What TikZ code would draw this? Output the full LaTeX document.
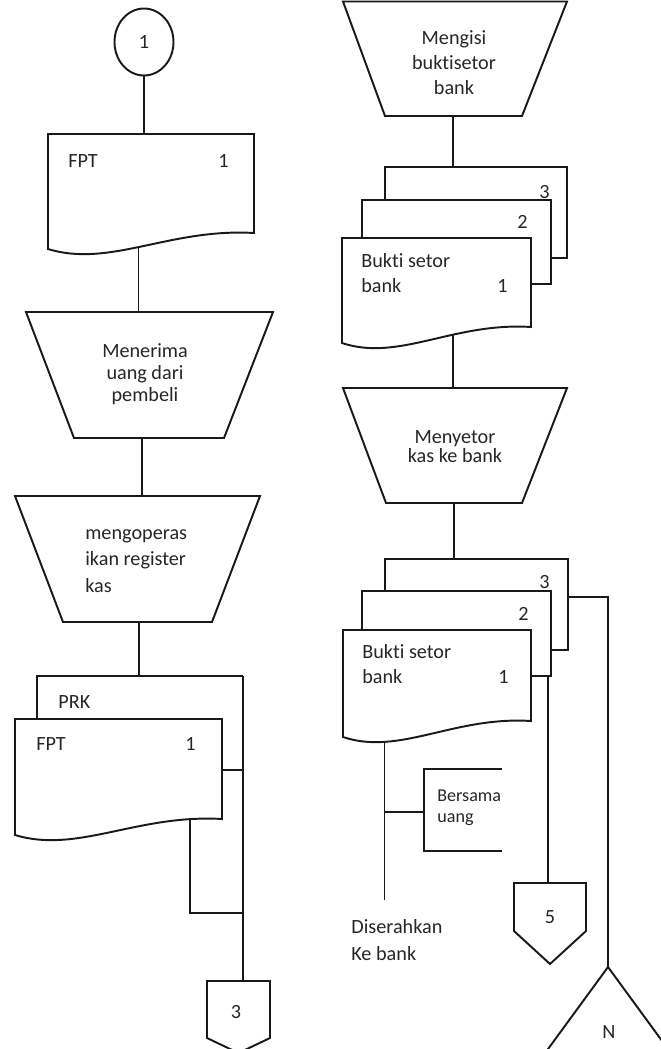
\documentclass[tikz,border=0pt]{standalone}
\usepackage{fontspec}
\setmainfont{Carlito}[Ligatures=NoCommon]
\usetikzlibrary{shapes.geometric}

% document symbol with wavy bottom: name, left, top, right, bottom (right side), outlet position on the wave
\newcommand{\flowdoc}[6]{%
  \draw[flow] (#2,#3) coordinate (#1-nw) -- (#4,#3) coordinate (#1-ne) -- (#4,#5) coordinate (#1-se)
    .. controls ({#2+0.59*(#4-#2)},{#5-5}) and ({#2+0.3*(#4-#2)},{#5+35}) .. (#2,{#5+16})
    coordinate[pos=#6] (#1-out) -- cycle;
}

\tikzset{
  flow/.style={line width=1.1pt, draw=black!90},
  txt/.style={font=\fontsize{11.5}{#1}\selectfont, text=black!85, inner sep=0pt},
  txt/.default=14,
}

\begin{document}
\begin{tikzpicture}[x=0.02cm, y=-0.02cm]
        % Define the page
        \useasboundingbox (0,0) rectangle (661,1049);
        \clip (0,0) rectangle (661,1049);

        % Left column: start from connector 1
        \node[ellipse, flow, txt, minimum width=1.18cm, minimum height=1.34cm] (c1) at (144,42) {1};

        % FPT received
        \flowdoc{fpt}{48}{134}{254}{233}{0.52}
        \node[txt, anchor=base west] (fpt-t) at (68,167) {FPT};
        \node[txt, anchor=base west] (fpt-n) at (218,167) {1};
        \draw[flow] (c1.south) -- (c1.south |- fpt-nw);

        % Menerima uang (base anchor sits on the last line)
        \draw[flow] (26,312) coordinate (t1-nw) -- (273,312) -- (224,438) -- (74,438) -- cycle;
        \node[txt=12.5, align=center, anchor=base] (t1-t) at (145,401.7) {Menerima\\uang dari\\pembeli};
        \draw[flow] (fpt-out) -- (fpt-out |- t1-nw);

        % Register kas
        \coordinate (t1-s) at (142,438);
        \draw[flow] (15,496) coordinate (t2-nw) -- (260,496) -- (212,622) -- (63,622) -- cycle;
        \node[txt=15, align=left, anchor=base west] (t2-t) at (85,592) {mengoperas\\ikan register\\kas};
        \draw[flow] (t1-s) -- (t1-s |- t2-nw);

        % PRK and FPT
        \coordinate (t2-s) at (139,622);
        \draw[flow] (37,719) |- (243,676) coordinate (prk-ne);
        \coordinate (prk-nw) at (37,676);
        \node[txt, anchor=base west] (prk-t) at (58,708) {PRK};
        \draw[flow] (t2-s) -- (t2-s |- prk-nw);
        \flowdoc{fpt2}{15}{719}{222}{819}{0.13}
        \node[txt, anchor=base west] (fpt2-t) at (36,750) {FPT};
        \node[txt, anchor=base west] (fpt2-n) at (185,750) {1};

        % Off-page connector 3
        \draw[flow] (207,981) coordinate (k3-nw) -- (270,981) -- (270,1038) -- (238.5,1053) -- (207,1038) -- cycle;
        \node[txt, anchor=base] (k3-t) at (236,1018) {3};
        \coordinate (fpt2-r) at (222,770);
        \coordinate (j3) at (243,913);
        \draw[flow] (prk-ne) -- (prk-ne |- k3-nw);
        \draw[flow] (fpt2-r) -- (fpt2-r -| prk-ne);
        \draw[flow] (fpt2-out) |- (j3);

        % Right column: Mengisi bukti setor
        \draw[flow] (343,1.5) -- (567,1.5) -- (522,116) -- (385,116) -- cycle;
        \node[txt=14.2, align=center, anchor=base] (mb-t) at (454,94) {Mengisi\\buktisetor\\bank};
        \coordinate (mb-s) at (453,116);

        % Bukti setor bank, three copies
        \draw[flow] (385,200) |- (567,167) |- (551,258);
        \coordinate (bs3-n) at (453,167);
        \node[txt, anchor=base west] (bs3-t) at (539,198) {3};
        \draw[flow] (362,238) |- (551,200) |- (531,284);
        \node[txt, anchor=base west] (bs2-t) at (517,228) {2};
        \flowdoc{bs1}{342}{238}{531}{327}{0.37}
        \node[txt=13.9, align=left, anchor=base west] (bs1-t) at (361,292) {Bukti setor\\bank};
        \node[txt, anchor=base west] (bs1-n) at (497,292) {1};
        \draw[flow] (mb-s) -- (bs3-n);

        % Menyetor kas
        \draw[flow] (343,388) coordinate (ms-nw) -- (567,388) -- (522,503) -- (386,503) -- cycle;
        \node[txt=10.4, align=center, anchor=base] (ms-t) at (455,462) {Menyetor\\kas ke bank};
        \draw[flow] (bs1-out) -- (bs1-out |- ms-nw);
        \coordinate (ms-s) at (454,503);

        % Bukti setor bank again
        \draw[flow] (385,591) |- (568,559) |- (551,650);
        \coordinate (bt3-n) at (454,559);
        \node[txt, anchor=base west] (bt3-t) at (539,588) {3};
        \draw[flow] (362,630) |- (551,591) |- (531,676);
        \node[txt, anchor=base west] (bt2-t) at (518,620) {2};
        \flowdoc{bt1}{343}{630}{531}{721}{0.755}
        \node[txt=13.9, align=left, anchor=base west] (bt1-t) at (362,683) {Bukti setor\\bank};
        \node[txt, anchor=base west] (bt1-n) at (498,683) {1};
        \draw[flow] (ms-s) -- (bt3-n);

        % Copy 1 with the money to the bank
        \coordinate (dis-end) at (384,900);
        \coordinate (br) at (424,812);
        \draw[flow] (bt1-out) -- (bt1-out |- dis-end);
        \draw[flow] (bt1-out |- br) -- (br);
        \draw[flow] (502,769) -- (424,769) -- (424,851) -- (502,851);
        \node[txt=11.4, font=\fontsize{10.3}{11.4}\selectfont, align=left, anchor=base west] (br-t) at (437,822) {Bersama\\uang};
        \node[txt=15.3, align=left, anchor=base west] (dis-t) at (351,960) {Diserahkan\\Ke bank};

        % Copy 2 to connector 5
        \coordinate (bt2-out) at (548,676);
        \draw[flow] (514,883) coordinate (k5-nw) -- (586,883) -- (586,931) -- (550,964) -- (514,931) -- cycle;
        \node[txt, anchor=base] (k5-t) at (550,923) {5};
        \draw[flow] (bt2-out) -- (bt2-out |- k5-nw);

        % Copy 3 to file N
        \coordinate (bt3-r) at (568,597);
        \draw[flow] (540,1060) -- (608,967) coordinate (kn-top) -- (676,1060);
        \node[txt, anchor=base] (kn-t) at (609,1038) {N};
        \draw[flow] (bt3-r) -| (kn-top);

    \end{tikzpicture}
\end{document}
